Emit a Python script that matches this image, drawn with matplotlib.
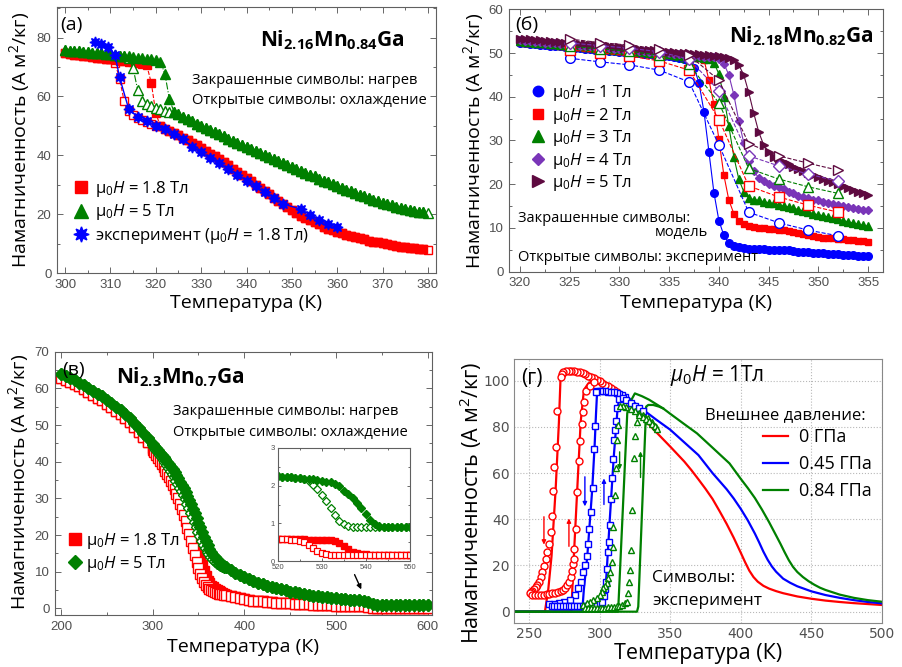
import numpy as np
import matplotlib
matplotlib.use('Agg')
import matplotlib.pyplot as plt
from matplotlib import ticker
from matplotlib.lines import Line2D

plt.rcParams['font.family'] = ['Liberation Sans', 'DejaVu Sans']
plt.rcParams['mathtext.fontset'] = 'custom'
plt.rcParams['mathtext.rm'] = 'Open Sans'
plt.rcParams['mathtext.it'] = 'Open Sans:italic'
plt.rcParams['mathtext.bf'] = 'Open Sans:bold'

LBL = ['Open Sans', 'DejaVu Sans']
RED = '#ff0000'
GREEN = '#008000'
BLUE = '#0000ff'
PURPLE = '#7a35b8'
MAROON = '#5e0a40'

YLABEL = 'Намагниченность (А м$^2$/кг)'
XLABEL = 'Температура (К)'

# ---------------- (a) Ni2.16Mn0.84Ga ----------------
a_T = np.arange(300, 381)
a_red_heat = [74.6, 74.4, 74.2, 74.0, 73.8, 73.6, 73.4, 73.2, 73.0, 72.8,
              72.6, 72.4, 72.2, 72.0, 71.8, 71.6, 71.4, 71.1, 70.6, 64.6,
              54.3, 49.9, 49.1, 48.4, 47.6, 46.8, 46.0, 45.2, 44.3, 43.4,
              42.5, 41.6, 40.6, 39.6, 38.6, 37.6, 36.6, 35.5, 34.4, 33.3,
              32.2, 31.1, 30.0, 28.9, 27.8, 26.7, 25.6, 24.5, 23.4, 22.4,
              21.4, 20.4, 19.5, 18.6, 17.9, 17.2, 16.5, 15.8, 15.1, 14.5,
              14.0, 13.5, 13.0, 12.6, 12.2, 11.8, 11.4, 11.0, 10.7, 10.4,
              10.1, 9.8, 9.6, 9.3, 9.0, 8.8, 8.6, 8.4, 8.2, 8.1, 7.9]
a_red_cool_jump = [71.5, 66.0, 58.5, 55.0, 53.6, 52.8, 52.1, 51.4, 50.7, 50.0]  # 311..320
a_green_heat = [75.8, 75.6, 75.5, 75.3, 75.2, 75.0, 74.9, 74.7, 74.6, 74.4,
                74.3, 74.1, 73.9, 73.8, 73.6, 73.4, 73.2, 73.0, 72.8, 72.6,
                72.3, 71.8, 67.7, 59.0, 54.8, 53.9, 53.1, 52.3, 51.5, 50.7,
                49.9, 49.2, 48.5, 47.8, 47.1, 46.4, 45.7, 45.0, 44.3, 43.6,
                42.9, 42.2, 41.5, 40.8, 40.1, 39.5, 38.8, 38.1, 37.4, 36.8,
                36.1, 35.4, 34.7, 34.1, 33.4, 32.8, 32.1, 31.4, 30.8, 30.1,
                29.5, 28.9, 28.3, 27.7, 27.1, 26.5, 26.0, 25.4, 24.9, 24.4,
                23.9, 23.4, 23.0, 22.6, 22.2, 21.8, 21.5, 21.2, 20.9, 20.6, 20.4]
a_green_cool_jump = [73.0, 69.5, 62.2, 58.6, 57.5, 56.8, 56.2, 55.6, 55.1, 54.6]  # 314..323
a_exp_T = [306.5, 308, 309.5, 311, 312, 314, 316, 318, 320, 322, 324, 326, 328, 330,
           332, 334, 336, 338, 340, 342, 344, 346, 348, 352, 354, 356, 358, 360]
a_exp_M = [78.4, 77.9, 76.8, 74.2, 66.5, 55.8, 52.9, 51.5, 50.0, 48.9, 47.3, 45.5, 42.9, 41.0,
           39.0, 37.3, 35.3, 33.4, 31.4, 29.4, 27.5, 25.6, 23.5, 21.7, 19.8, 18.1, 16.7, 15.5]

# ---------------- (б) Ni2.18Mn0.82Ga ----------------
b_T = np.arange(320, 355.5, 0.5)
b_1T = [52.3, 52.2, 52.1, 52.0, 51.9, 51.8, 51.7, 51.6, 51.5, 51.4,
        51.3, 51.2, 51.1, 51.0, 50.9, 50.8, 50.7, 50.6, 50.5, 50.4,
        50.3, 50.2, 50.1, 50.0, 49.9, 49.8, 49.7, 49.6, 49.5, 49.4,
        49.3, 49.1, 48.9, 48.6, 48.0, 46.6, 43.2, 36.6, 27.4, 18.1,
        11.7, 8.3, 6.6, 5.9, 5.6, 5.4, 5.3, 5.2, 5.15, 5.1,
        5.05, 5.0, 5.0, 4.95, 4.85, 4.75, 4.6, 4.5, 4.4, 4.3,
        4.25, 4.2, 4.1, 4.05, 3.95, 3.9, 3.8, 3.75, 3.7, 3.65, 3.6]
b_2T = [52.5, 52.4, 52.3, 52.2, 52.1, 52.0, 51.9, 51.8, 51.7, 51.6,
        51.5, 51.4, 51.3, 51.2, 51.1, 51.0, 50.9, 50.8, 50.7, 50.6,
        50.5, 50.4, 50.3, 50.2, 50.1, 50.0, 49.9, 49.8, 49.7, 49.6,
        49.5, 49.4, 49.3, 49.2, 49.0, 48.9, 48.8, 48.5, 43.8, 38.3,
        30.3, 22.1, 16.4, 13.3, 11.7, 10.9, 10.5, 10.3, 10.1, 9.9,
        9.8, 9.7, 9.6, 9.45, 9.3, 9.05, 8.8, 8.55, 8.3, 8.1,
        7.9, 7.8, 7.7, 7.6, 7.5, 7.4, 7.3, 7.2, 7.1, 7.0, 6.9]
b_3T = [52.7, 52.6, 52.5, 52.4, 52.3, 52.2, 52.1, 52.0, 51.9, 51.8,
        51.7, 51.6, 51.5, 51.4, 51.3, 51.2, 51.1, 51.0, 50.9, 50.8,
        50.7, 50.6, 50.5, 50.4, 50.3, 50.2, 50.1, 50.0, 49.9, 49.8,
        49.7, 49.6, 49.5, 49.4, 49.3, 49.2, 49.1, 48.9, 48.6, 47.8,
        45.2, 40.0, 33.3, 26.3, 21.2, 18.3, 16.8, 16.5, 16.3, 16.0,
        15.8, 15.6, 15.3, 15.0, 14.8, 14.5, 14.2, 13.9, 13.6, 13.3,
        13.0, 12.8, 12.5, 12.2, 12.0, 11.7, 11.4, 11.1, 10.9, 10.6, 10.4]
b_4T = [52.9, 52.8, 52.7, 52.6, 52.5, 52.4, 52.3, 52.2, 52.1, 52.0,
        51.9, 51.8, 51.7, 51.6, 51.5, 51.4, 51.3, 51.2, 51.1, 51.0,
        50.9, 50.8, 50.7, 50.6, 50.5, 50.4, 50.3, 50.2, 50.1, 50.0,
        49.9, 49.8, 49.7, 49.6, 49.5, 49.4, 49.3, 49.2, 49.1, 49.0,
        48.7, 47.6, 45.0, 40.5, 34.5, 29.5, 25.3, 23.0, 21.5, 20.7,
        20.1, 19.7, 19.3, 18.8, 18.3, 17.9, 17.4, 17.1, 16.8, 16.5,
        16.3, 16.0, 15.8, 15.5, 15.3, 15.0, 14.8, 14.6, 14.4, 14.2, 14.0]
b_5T = [53.3, 53.2, 53.1, 53.0, 52.9, 52.8, 52.7, 52.6, 52.5, 52.4,
        52.3, 52.2, 52.1, 52.0, 51.9, 51.8, 51.7, 51.6, 51.5, 51.4,
        51.3, 51.2, 51.1, 51.0, 50.9, 50.8, 50.7, 50.6, 50.5, 50.4,
        50.3, 50.2, 50.1, 50.0, 49.9, 49.8, 49.7, 49.6, 49.5, 49.4,
        49.3, 49.1, 48.9, 48.4, 47.3, 45.0, 41.0, 36.3, 32.0, 29.0,
        27.3, 26.3, 25.6, 25.1, 24.6, 24.0, 23.5, 23.0, 22.6, 22.1,
        21.6, 21.2, 20.8, 20.4, 20.0, 19.6, 19.1, 18.7, 18.3, 17.9, 17.5]
b_exp_T = [325, 328, 331, 334, 337, 340, 343, 346, 349, 352]
b_exp_1T = [48.8, 48.0, 47.3, 46.1, 43.4, 29.0, 13.6, 11.2, 9.5, 8.2]
b_exp_2T = [50.7, 50.1, 49.3, 48.2, 46.1, 34.8, 19.6, 17.1, 15.2, 13.6]
b_exp_3T = [51.5, 51.0, 50.4, 49.5, 47.4, 38.6, 23.6, 21.2, 19.4, 17.9]
b_exp_4T = [52.3, 51.7, 51.1, 50.3, 48.6, 41.4, 26.5, 24.2, 22.3, 20.7]
b_exp_5T = [53.2, 52.4, 51.8, 50.9, 49.5, 43.8, 29.3, 26.5, 24.8, 23.2]
b_fields = ['1', '2', '3', '4', '5']

# ---------------- (в) Ni2.3Mn0.7Ga ----------------
c_T = np.concatenate([np.arange(200, 300, 5), np.arange(300, 380, 2), np.arange(380, 601, 5)])
c_red_lo = [62.9, 62.4, 61.8, 61.2, 60.6, 59.9, 59.1, 58.3, 57.5, 56.7,
            55.8, 54.9, 53.9, 52.9, 51.8, 50.7, 49.5, 48.2, 46.8, 45.3]
c_green_lo = [64.0, 63.4, 62.8, 62.2, 61.6, 60.9, 60.2, 59.4, 58.6, 57.8,
              56.9, 56.0, 55.0, 54.0, 52.9, 51.8, 50.6, 49.3, 47.9, 46.4]
c_red_mid_heat = [43.7, 43.0, 42.3, 41.6, 40.9, 40.2, 39.4, 38.6, 37.8, 37.0,
                  36.2, 35.3, 34.4, 33.4, 32.3, 31.1, 29.9, 28.6, 27.2, 25.7,
                  24.1, 22.5, 20.8, 19.0, 17.2, 15.4, 13.6, 11.8, 10.1, 8.7,
                  7.6, 6.8, 6.2, 5.7, 5.3, 5.0, 4.7, 4.4, 4.1, 3.9]
c_red_mid_cool = [43.3, 42.6, 41.8, 41.0, 40.2, 39.4, 38.5, 37.6, 36.7, 35.7,
                  34.7, 33.6, 32.5, 31.3, 30.0, 28.6, 27.1, 25.5, 23.8, 22.0,
                  20.2, 18.3, 16.4, 14.5, 12.7, 11.0, 9.5, 8.3, 7.3, 6.5,
                  5.9, 5.4, 5.0, 4.7, 4.4, 4.2, 4.0, 3.9, 3.8, 3.7]
c_green_mid_heat = [44.9, 44.3, 43.7, 43.1, 42.5, 41.9, 41.3, 40.7, 40.0, 39.3,
                    38.6, 37.9, 37.1, 36.3, 35.5, 34.6, 33.7, 32.7, 31.7, 30.6,
                    29.5, 28.4, 27.2, 26.0, 24.7, 23.4, 22.1, 20.8, 19.6, 18.4,
                    17.3, 16.3, 15.4, 14.6, 13.9, 13.3, 12.8, 12.3, 11.9, 11.5]
c_green_mid_cool = [44.6, 44.0, 43.3, 42.6, 41.9, 41.2, 40.5, 39.8, 39.0, 38.2,
                    37.4, 36.6, 35.7, 34.8, 33.9, 32.9, 31.9, 30.8, 29.7, 28.5,
                    27.3, 26.1, 24.8, 23.5, 22.2, 20.9, 19.7, 18.5, 17.4, 16.4,
                    15.5, 14.7, 14.0, 13.4, 12.9, 12.5, 12.1, 11.8, 11.5, 11.3]
c_red_hi = [3.7, 3.3, 3.0, 2.7, 2.5, 2.3, 2.15, 2.0, 1.9, 1.8,
            1.7, 1.6, 1.5, 1.45, 1.4, 1.3, 1.25, 1.2, 1.1, 1.0,
            0.95, 0.9, 0.85, 0.8, 0.75, 0.7, 0.65, 0.62, 0.6, 0.58,
            0.56, 0.39, 0.18, 0.17, 0.17, 0.17, 0.17, 0.17, 0.17, 0.17,
            0.17, 0.17, 0.17, 0.17, 0.17]
c_green_hi = [11.2, 10.4, 9.7, 9.1, 8.5, 8.0, 7.5, 7.0, 6.6, 6.2,
              5.8, 5.5, 5.2, 4.9, 4.6, 4.4, 4.1, 3.9, 3.7, 3.5,
              3.3, 3.2, 3.0, 2.9, 2.8, 2.6, 2.5, 2.4, 2.25, 2.2,
              2.13, 1.85, 1.25, 0.9, 0.89, 0.89, 0.89, 0.89, 0.89, 0.89,
              0.89, 0.89, 0.89, 0.89, 0.89]
# inset 520..550 K
in_T = np.arange(520, 551)
in_green_heat = [2.25, 2.24, 2.23, 2.22, 2.21, 2.20, 2.19, 2.18, 2.17, 2.15,
                 2.13, 2.11, 2.09, 2.05, 1.99, 1.85, 1.78, 1.68, 1.55, 1.40,
                 1.25, 1.10, 0.98, 0.93, 0.91, 0.90, 0.90, 0.89, 0.89, 0.89, 0.89]
in_green_cool = [2.25, 2.24, 2.23, 2.22, 2.21, 2.20, 2.18, 2.12, 2.03, 1.90,
                 1.75, 1.58, 1.42, 1.22, 1.06, 0.97, 0.92, 0.90, 0.89, 0.89,
                 0.89, 0.89, 0.89, 0.89, 0.89, 0.89, 0.89, 0.89, 0.89, 0.89, 0.89]
in_red_heat = [0.59, 0.59, 0.59, 0.58, 0.58, 0.58, 0.58, 0.57, 0.57, 0.57,
               0.56, 0.56, 0.55, 0.52, 0.47, 0.39, 0.31, 0.25, 0.21, 0.19,
               0.18, 0.17, 0.17, 0.17, 0.17, 0.17, 0.17, 0.17, 0.17, 0.17, 0.17]
in_red_cool = [0.59, 0.58, 0.58, 0.57, 0.56, 0.54, 0.50, 0.43, 0.35, 0.26,
               0.21, 0.18, 0.16, 0.16, 0.16, 0.16, 0.16, 0.16, 0.16, 0.16,
               0.16, 0.16, 0.16, 0.16, 0.16, 0.16, 0.16, 0.16, 0.16, 0.16, 0.16]

# ---------------- (г) pressure, 1 T ----------------
d_pressures = ['0 ГПа', '0.45 ГПа', '0.84 ГПа']
d_red_cool_T = [500, 490, 480, 470, 460, 450, 440, 430, 425, 420, 416, 412, 409, 406, 403,
                400, 395, 390, 385, 380, 375, 370, 365, 360, 350, 340, 330, 320, 310, 300,
                290, 282, 278, 275, 273.2, 272.4, 271.2, 268.9, 266.0, 263.7, 261.3, 239.4]
d_red_cool_M = [2.9, 3.3, 3.7, 4.2, 4.8, 5.6, 6.6, 8.0, 8.9, 10.0, 11.2, 13.0, 15.0, 17.8, 21.5,
                25.5, 32.0, 38.0, 43.5, 48.8, 53.2, 57.3, 61.3, 65.0, 71.5, 77.8, 84.3, 91.2, 95.8,
                99.4, 102.4, 104.0, 104.3, 104.1, 103.6, 101.9, 82.0, 53.1, 24.2, 9.8, 0.0, 0.0]
d_red_heat_T = [239.4, 280.0, 280.7, 281.8, 284.2, 286.6, 288.9, 292.0, 296.0, 300.0]
d_red_heat_M = [0.0, 0.0, 9.8, 24.2, 53.1, 82.0, 96.0, 98.8, 100.3, 99.4]
d_blue_cool_T = [500, 490, 480, 470, 460, 450, 440, 435, 430, 425, 422, 419, 416, 413, 410,
                 405, 400, 395, 390, 380, 370, 360, 350, 340, 330, 320, 312, 305, 298.3, 297.5,
                 296.5, 294.8, 291.3, 288.9, 287.7, 239.4]
d_blue_cool_M = [3.6, 4.2, 5.0, 6.0, 7.2, 8.8, 11.0, 12.5, 14.3, 17.3, 19.6, 22.5, 26.0, 30.0, 33.8,
                 39.5, 44.5, 49.0, 53.0, 60.0, 67.8, 73.3, 78.8, 83.2, 87.8, 92.8, 95.2, 95.7, 95.7,
                 86.0, 72.0, 53.0, 24.0, 9.8, 0.0, 0.0]
d_blue_heat_T = [239.4, 302.4, 303.8, 305.0, 307.1, 310.1, 312.5, 313.7, 316.0, 320.0]
d_blue_heat_M = [0.0, 0.0, 6.9, 17.0, 38.7, 67.5, 86.0, 92.0, 93.8, 92.8]
d_green_cool_T = [500, 490, 480, 470, 460, 456, 452, 448, 444, 440, 437, 434, 431, 428, 425,
                  420, 415, 410, 405, 400, 392, 380, 369, 360, 350, 345, 335, 330, 325, 321,
                  319.6, 313.3, 313.0, 239.4]
d_green_cool_M = [4.3, 5.0, 6.0, 7.4, 9.4, 10.4, 11.7, 13.2, 15.0, 17.2, 19.4, 22.3, 25.8, 29.5, 33.0,
                  38.8, 44.2, 49.2, 53.5, 57.5, 64.2, 71.0, 77.2, 81.2, 85.7, 88.0, 91.8, 93.3, 94.5,
                  90.0, 85.9, 2.2, 0.0, 0.0]
d_green_heat_T = [239.4, 326.5, 327.4, 333.0, 334.5, 338.0, 342.0, 345.0]
d_green_heat_M = [0.0, 0.0, 2.2, 88.8, 89.5, 89.5, 88.8, 88.0]

d_red_exp_T = [312, 310, 308, 306, 304, 302, 300, 298, 296, 294, 292, 290, 288, 286, 284,
               282, 280, 278, 276, 274.3, 273.3, 272.4, 270.2, 268.9, 267.9, 267.0, 266.0, 265.3,
               264.2, 263.0, 261.8, 260.6, 259.4, 258.3, 257.1, 255.9, 254.7, 253.5, 252.4,
               251.4, 250.5,
               252.5, 254.5, 256.5, 258.5, 260.5, 262.5, 264.5, 266.5, 268.5, 270.5, 272.5,
               274.3, 275.8, 277.1, 278.3, 279.5, 280.5, 281.2, 281.6, 282.2, 283.0, 284.2,
               285.4, 286.4, 287.3, 288.2, 289.0, 290.6, 293.0, 296.0]
d_red_exp_M = [95.0, 96.0, 96.8, 97.6, 98.3, 99.0, 99.7, 100.4, 101.0, 101.6, 102.2, 102.7, 103.2,
               103.6, 103.9, 104.1, 104.2, 104.2, 104.0, 103.6, 102.8, 101.5, 87.0, 71.1, 62.5,
               52.4, 41.6, 34.3, 29.3, 25.7, 22.8, 19.9, 17.0, 14.9, 12.7, 11.5, 10.5, 9.7, 9.1,
               8.6, 8.1,
               7.2, 7.2, 7.2, 7.3, 7.4, 7.5, 7.7, 7.9, 8.2, 8.5, 9.0,
               9.6, 10.4, 11.4, 12.7, 15.0, 17.5, 20.6, 23.0, 27.1, 35.8, 51.7,
               65.4, 74.0, 81.2, 86.3, 90.6, 95.7, 97.8, 99.3]
d_blue_exp_T = [318, 316, 314, 312, 310, 308, 306, 304, 302, 300, 298, 297.2, 296.5, 296.0, 295.0,
                293.8, 292.6, 291.5, 290.8, 289.6, 288.4, 286.8, 284.9, 282.5, 279.0, 275.0, 271.0,
                267.5, 264.5,
                266, 268, 270, 272, 274, 276, 278, 280, 282, 284, 286, 288, 290, 292, 294, 296,
                298, 300, 301.5, 303.0, 303.8, 304.7, 305.6, 306.3, 307.0, 307.6, 308.2, 308.8,
                309.4, 310.1, 310.8, 311.5, 312.5, 314.0, 316.5, 319.0, 322.0, 325.0, 328.0, 331.0]
d_blue_exp_M = [93.0, 93.8, 94.4, 94.8, 95.0, 95.2, 95.3, 95.4, 95.5, 95.5, 95.5, 95.0, 80.5, 70.4,
                53.7, 43.3, 36.0, 29.1, 24.0, 20.1, 17.3, 13.0, 10.1, 7.2, 5.0, 4.2, 3.7, 3.4, 3.2,
                2.3, 2.3, 2.3, 2.3, 2.3, 2.3, 2.3, 2.3, 2.3, 2.3, 2.3, 2.4, 2.4, 2.5, 2.6, 2.8,
                3.1, 3.6, 4.3, 6.9, 10.0, 13.0, 18.5, 25.7, 30.0, 37.5, 48.8, 57.7,
                66.0, 74.2, 78.5, 82.6, 88.0, 92.0, 92.5, 91.5, 90.3, 89.0, 88.0, 87.0]
d_green_exp_T = [340, 337, 334, 331, 328, 325, 322, 319, 316.5, 314.4, 313.2, 312.5, 311.5, 310.8,
                 309.6, 309.2, 308.5, 307.3, 306.1, 305.0, 303.8, 302.6, 301.4, 300.2, 298.0,
                 295.5, 293.0, 290.8, 288.5,
                 290, 292, 294, 296, 298, 300, 302, 304, 306, 308, 310, 312, 314, 316, 318,
                 319.1, 320.3, 321.0, 321.6, 322.0, 322.8, 324.2, 325.1, 326.5, 328.0, 331.0,
                 333.0, 335.0, 337.0, 339.0, 341.0]
d_green_exp_M = [80.0, 82.0, 83.7, 85.0, 86.2, 87.0, 87.8, 88.5, 89.0, 88.9, 80.8, 74.3, 62.0, 50.5,
                 36.8, 28.1, 21.6, 17.3, 14.4, 12.3, 11.0, 10.1, 8.5, 7.2, 6.0, 5.0, 4.2, 3.6, 3.0,
                 1.8, 1.8, 1.8, 1.8, 1.8, 1.8, 1.8, 1.8, 1.9, 2.0, 2.1, 2.3, 2.6, 3.0, 3.6,
                 4.3, 7.9, 13.0, 18.0, 26.5, 44.0, 66.4, 76.0, 82.0, 85.0, 84.5,
                 83.5, 82.5, 81.3, 80.2, 79.2]

# ---------------- figure ----------------
W, H = 903, 667
fig = plt.figure(figsize=(W / 100, H / 100), dpi=100)


def axes_px(l, t, r, b):
    return fig.add_axes([l / W, 1 - b / H, (r - l) / W, (b - t) / H])


def box_style(ax, size=9.5):
    ax.tick_params(which='both', direction='in', top=True, right=True, colors='#505050',
                   labelsize=size, width=0.6, pad=4)
    ax.tick_params(which='major', length=4)
    ax.tick_params(which='minor', length=2.5)
    for s in ax.spines.values():
        s.set_color('#606060')
        s.set_linewidth(0.8)


def labels(ax, fs, xy_x, xy_y):
    ax.set_xlabel(XLABEL, fontsize=fs, family=LBL, va='center')
    ax.set_ylabel(YLABEL, fontsize=fs, family=LBL, va='center')
    ax.xaxis.set_label_coords(0.5, xy_x)
    ax.yaxis.set_label_coords(xy_y[0], xy_y[1])


def atext(ax, x, y, s, fs, **kw):
    kw.setdefault('family', LBL)
    ax.text(x, y, s, transform=ax.transAxes, fontsize=fs, **kw)


ax_a = axes_px(57, 7, 436, 273)
ax_b = axes_px(509, 9.3, 883, 271.7)
ax_c = axes_px(55, 351.7, 432, 615)
ax_d = axes_px(514, 359, 882, 623)

# ---- (a)
a_red_cool = np.concatenate([a_red_heat[:11], a_red_cool_jump, a_red_heat[21:]])
a_green_cool = np.concatenate([a_green_heat[:14], a_green_cool_jump, a_green_heat[24:]])
ax_a.plot(a_T, a_red_cool, ls='--', lw=0.8, color=RED, marker='s', ms=6, mfc='white', mec=RED, mew=1)
ax_a.plot(a_T[:-1], a_red_heat[:-1], ls='--', lw=0.8, color=RED, marker='s', ms=6, mfc=RED, mec=RED)
ax_a.plot(a_T, a_green_cool, ls='-.', lw=0.8, color=GREEN, marker='^', ms=6.5, mfc='white', mec=GREEN, mew=1)
ax_a.plot(a_T[:-1], a_green_heat[:-1], ls='-.', lw=0.8, color=GREEN, marker='^', ms=6.5, mfc=GREEN, mec=GREEN)
ax_a.plot(a_exp_T, a_exp_M, '-', lw=1, color=BLUE, marker=(8, 1, 0), ms=8, mfc=BLUE, mec=BLUE)
ax_a.set_xlim(298.2, 381.8)
ax_a.set_ylim(0, 90.4)
ax_a.xaxis.set_major_locator(ticker.MultipleLocator(10))
ax_a.xaxis.set_minor_locator(ticker.MultipleLocator(5))
ax_a.yaxis.set_major_locator(ticker.MultipleLocator(20))
ax_a.yaxis.set_minor_locator(ticker.MultipleLocator(10))
box_style(ax_a)
labels(ax_a, 14, -0.113, (-0.100, 0.5))
atext(ax_a, 0.008, 0.932, '(a)', 14, va='center')
atext(ax_a, 0.7256, 0.853, r'$\mathbf{Ni_{2.16}Mn_{0.84}Ga}$', 15, ha='center', va='baseline')
atext(ax_a, 0.356, 0.722, 'Закрашенные символы: нагрев', 10.5, va='center')
atext(ax_a, 0.356, 0.647, 'Открытые символы: охлаждение', 10.5, va='center')
hs = [Line2D([], [], ls='none', marker='s', ms=9, color=RED),
      Line2D([], [], ls='none', marker='^', ms=10, color=GREEN),
      Line2D([], [], ls='none', marker=(8, 1, 0), ms=11, color=BLUE)]
ax_a.legend(hs, ['μ$_0H$ = 1.8 Тл', 'μ$_0H$ = 5 Тл', 'эксперимент (μ$_0H$ = 1.8 Тл)'],
            loc='upper left', bbox_to_anchor=(0.042, 0.353), frameon=False,
            prop={'family': LBL, 'size': 12}, handlelength=1.0, handletextpad=0.3,
            labelspacing=0.2, borderpad=0, borderaxespad=0)

# ---- (б)
b_colors = [BLUE, RED, GREEN, PURPLE, MAROON]
b_markers = ['o', 's', '^', 'D', '>']
b_ms = [5.5, 5, 6, 4.5, 6]
b_model = [b_1T, b_2T, b_3T, b_4T, b_5T]
b_exp = [b_exp_1T, b_exp_2T, b_exp_3T, b_exp_4T, b_exp_5T]
for m, col, mk, ms in zip(b_model, b_colors, b_markers, b_ms):
    ax_b.plot(b_T, m, '-', lw=0.8, color=col, marker=mk, ms=ms, mfc=col, mec=col)
for m, col, mk, ms in zip(b_exp, b_colors, b_markers, b_ms):
    ax_b.plot(b_exp_T, m, '--', lw=0.8, color=col, marker=mk, ms=ms + 1.5, mfc='white', mec=col, mew=1)
ax_b.set_xlim(318.9, 356.5)
ax_b.set_ylim(0, 60)
ax_b.xaxis.set_major_locator(ticker.MultipleLocator(5))
ax_b.xaxis.set_minor_locator(ticker.MultipleLocator(2.5))
ax_b.yaxis.set_major_locator(ticker.MultipleLocator(10))
ax_b.yaxis.set_minor_locator(ticker.MultipleLocator(5))
box_style(ax_b)
labels(ax_b, 14, -0.119, (-0.096, 0.498))
atext(ax_b, 0.016, 0.94, '(б)', 14, va='center')
atext(ax_b, 0.781, 0.872, r'$\mathbf{Ni_{2.18}Mn_{0.82}Ga}$', 15, ha='center', va='baseline')
atext(ax_b, 0.024, 0.204, 'Закрашенные символы:', 10.5, va='center')
atext(ax_b, 0.532, 0.151, 'модель', 10.5, va='center', ha='right')
atext(ax_b, 0.024, 0.056, 'Открытые символы: эксперимент', 10.5, va='center')
hs = [Line2D([], [], ls='none', marker=mk, ms=ms + 2, color=col)
      for col, mk, ms in zip(b_colors, b_markers, b_ms)]
ax_b.legend(hs, ['μ$_0H$ = %s Тл' % f for f in b_fields], loc='upper left',
            bbox_to_anchor=(0.056, 0.719), frameon=False, prop={'family': LBL, 'size': 12},
            handlelength=1.0, handletextpad=0.3, labelspacing=0.15, borderpad=0, borderaxespad=0)

# ---- (в)
c_red_heat = np.concatenate([c_red_lo, c_red_mid_heat, c_red_hi])
c_red_cool = np.concatenate([c_red_lo, c_red_mid_cool, c_red_hi])
c_green_heat = np.concatenate([c_green_lo, c_green_mid_heat, c_green_hi])
c_green_cool = np.concatenate([c_green_lo, c_green_mid_cool, c_green_hi])
ax_c.plot(c_T, c_red_heat, ls='none', marker='s', ms=6.5, color=RED)
ax_c.plot(c_T, c_red_cool, ls='none', marker='s', ms=6.5, mfc='white', mec=RED, mew=1)
ax_c.plot(c_T, c_green_cool, ls='none', marker='D', ms=6.5, mfc='white', mec=GREEN, mew=1)
ax_c.plot(c_T, c_green_heat, ls='none', marker='D', ms=6.5, color=GREEN)
ax_c.set_xlim(193.5, 604.7)
ax_c.set_ylim(-1.8, 70)
ax_c.xaxis.set_major_locator(ticker.MultipleLocator(100))
ax_c.xaxis.set_minor_locator(ticker.MultipleLocator(50))
ax_c.yaxis.set_major_locator(ticker.MultipleLocator(10))
ax_c.yaxis.set_minor_locator(ticker.MultipleLocator(5))
box_style(ax_c)
labels(ax_c, 14, -0.122, (-0.098, 0.506))
atext(ax_c, 0.019, 0.931, '(в)', 14, va='center')
atext(ax_c, 0.333, 0.880, r'$\mathbf{Ni_{2.3}Mn_{0.7}Ga}$', 15, ha='center', va='baseline')
atext(ax_c, 0.313, 0.771, 'Закрашенные символы: нагрев', 10.5, va='center')
atext(ax_c, 0.313, 0.695, 'Открытые символы: охлаждение', 10.5, va='center')
hs = [Line2D([], [], ls='none', marker='s', ms=8, color=RED),
      Line2D([], [], ls='none', marker='D', ms=7, color=GREEN)]
ax_c.legend(hs, ['μ$_0H$ = 1.8 Тл', 'μ$_0H$ = 5 Тл'], loc='upper left',
            bbox_to_anchor=(0.035, 0.319), frameon=False, prop={'family': LBL, 'size': 12},
            handlelength=0.8, handletextpad=0.25, labelspacing=0.15, borderpad=0, borderaxespad=0)
ax_c.annotate('', xy=(528.8, 4.5), xytext=(519, 9.9),
              arrowprops=dict(arrowstyle='-|>', color='black', lw=1, mutation_scale=7))

ax_in = axes_px(277.7, 448, 410, 561)
ax_in.plot(in_T, in_red_heat, ls='none', marker='s', ms=4.5, color=RED)
ax_in.plot(in_T, in_red_cool, ls='none', marker='s', ms=4.5, mfc='white', mec=RED, mew=0.9)
ax_in.plot(in_T, in_green_cool, ls='none', marker='D', ms=4.5, mfc='white', mec=GREEN, mew=0.9)
ax_in.plot(in_T, in_green_heat, ls='none', marker='D', ms=4.5, color=GREEN)
ax_in.set_xlim(520, 550)
ax_in.set_ylim(0, 3)
ax_in.xaxis.set_major_locator(ticker.MultipleLocator(10))
ax_in.xaxis.set_minor_locator(ticker.MultipleLocator(5))
ax_in.yaxis.set_major_locator(ticker.MultipleLocator(1))
ax_in.yaxis.set_minor_locator(ticker.MultipleLocator(0.5))
box_style(ax_in, size=5.5)
ax_in.tick_params(which='major', length=2.5, pad=2)
ax_in.tick_params(which='minor', length=1.5)

# ---- (г)
d_colors = [RED, BLUE, GREEN]
d_cool = [(d_red_cool_T, d_red_cool_M), (d_blue_cool_T, d_blue_cool_M), (d_green_cool_T, d_green_cool_M)]
d_heat = [(d_red_heat_T, d_red_heat_M), (d_blue_heat_T, d_blue_heat_M), (d_green_heat_T, d_green_heat_M)]
d_exp = [(d_red_exp_T, d_red_exp_M, 'o'), (d_blue_exp_T, d_blue_exp_M, 's'), (d_green_exp_T, d_green_exp_M, '^')]
for (tx, my, mk), col in zip(d_exp, d_colors):
    ax_d.plot(tx, my, ls='none', marker=mk, ms=5, mfc='white', mec=col, mew=1, zorder=3)
for (tc, mc), (th, mh), col, lab in zip(d_cool, d_heat, d_colors, d_pressures):
    ax_d.plot(tc, mc, '-', lw=1.6, color=col, label=lab, zorder=2)
    ax_d.plot(th, mh, '-', lw=1.6, color=col, zorder=2)
arrows = [(260.6, 42.3, 27.8, RED), (278.3, 27.1, 41.6, RED),
          (289.6, 59.6, 44.4, BLUE), (303.1, 45.2, 58.9, BLUE),
          (314.2, 70.4, 60.3, GREEN), (329.0, 56.9, 70.6, GREEN)]
for x, y0, y1, col in arrows:
    ax_d.annotate('', xy=(x, y1), xytext=(x, y0),
                  arrowprops=dict(arrowstyle='-|>', color=col, lw=1, mutation_scale=6))
ax_d.set_xlim(239.4, 500)
ax_d.set_ylim(-4.9, 109.4)
ax_d.set_xticks([250, 300, 350, 400, 450, 500])
ax_d.set_yticks([0, 20, 40, 60, 80, 100])
ax_d.grid(True, ls=':', color='#b8b8b8', lw=0.8)
ax_d.set_axisbelow(True)
ax_d.tick_params(length=0, labelcolor='#505050', labelsize=10, pad=3)
for t in ax_d.get_xticklabels() + ax_d.get_yticklabels():
    t.set_fontfamily('DejaVu Sans')
for s in ax_d.spines.values():
    s.set_color('#888888')
    s.set_linewidth(0.8)
labels(ax_d, 15.5, -0.114, (-0.118, 0.456))
atext(ax_d, 0.019, 0.928, '(г)', 15, va='center')
atext(ax_d, 0.424, 0.936, r'$\mu_0H$ = 1Тл', 15, va='center')
atext(ax_d, 0.519, 0.788, 'Внешнее давление:', 12, va='center')
atext(ax_d, 0.375, 0.170, 'Символы:', 12.5, va='center')
atext(ax_d, 0.375, 0.083, 'эксперимент', 12.5, va='center')
ax_d.legend(loc='upper left', bbox_to_anchor=(0.677, 0.738), frameon=False,
            prop={'family': LBL, 'size': 13}, handlelength=1.4, handletextpad=0.6,
            labelspacing=0.5, borderpad=0, borderaxespad=0)

fig.savefig('out.png', dpi=100)
